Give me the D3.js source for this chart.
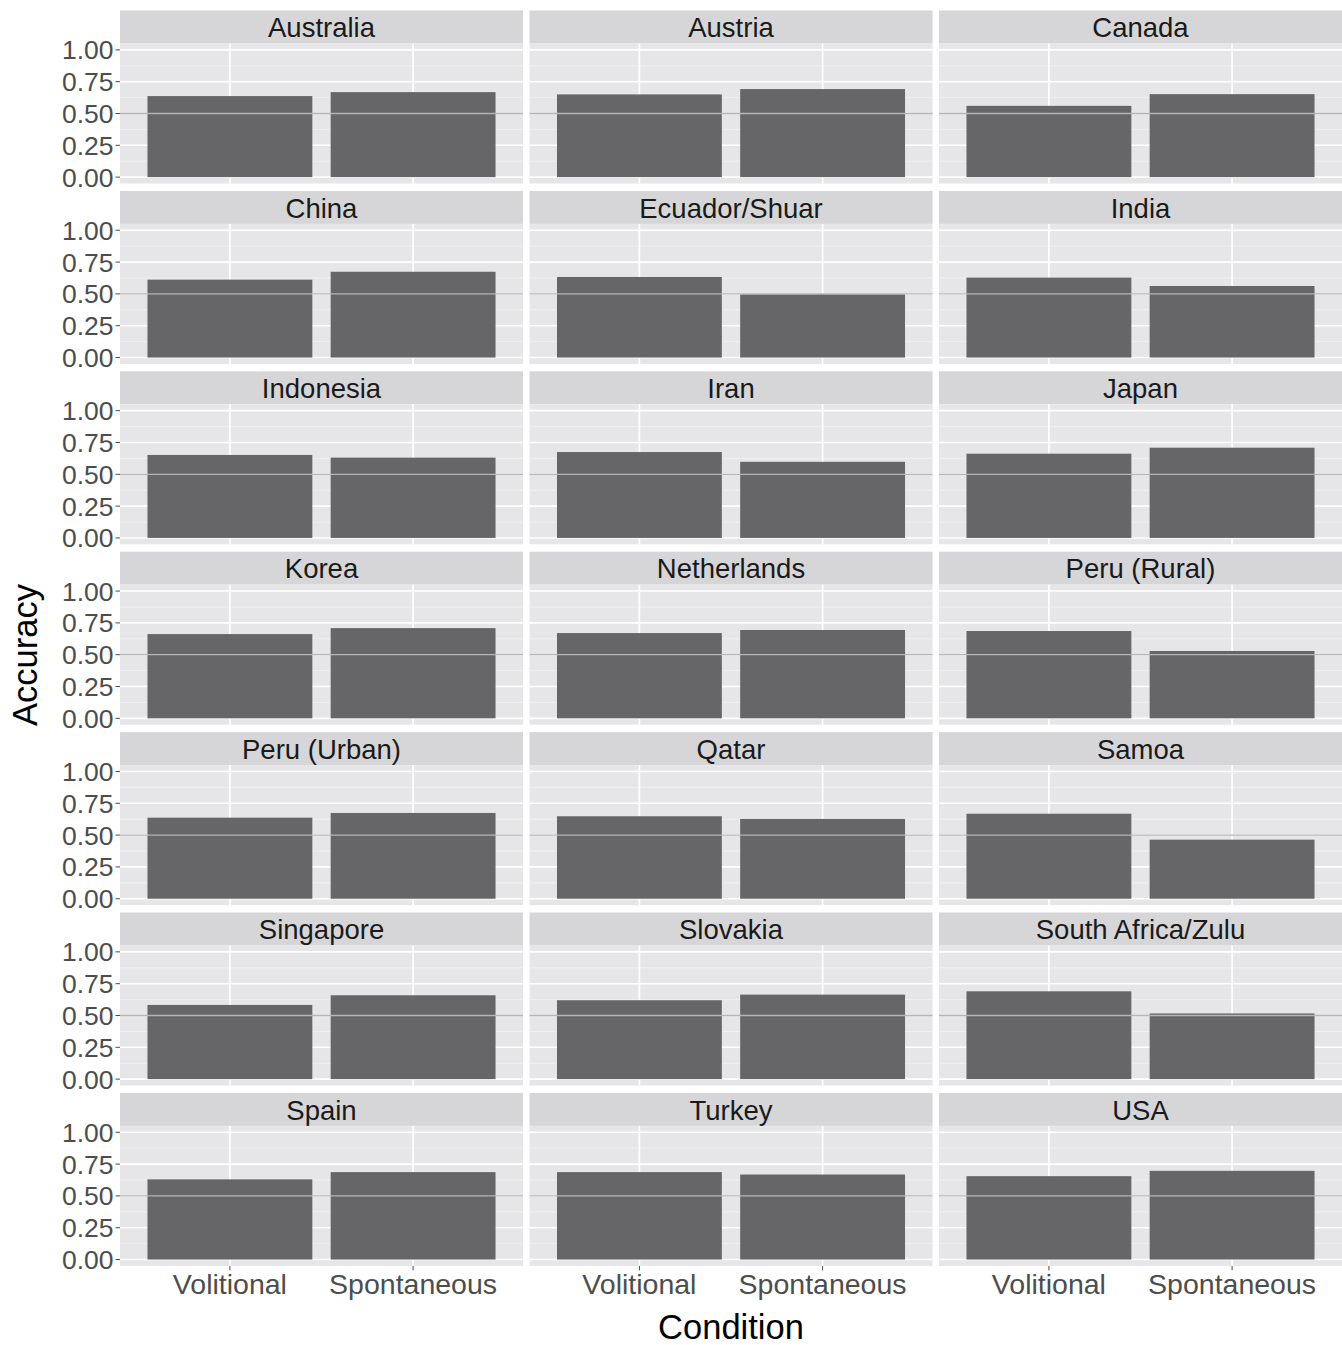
<!DOCTYPE html>
<html><head><meta charset="utf-8">
<script src="https://cdn.jsdelivr.net/npm/d3@7"></script>
<style>body{margin:0;background:#fff;} svg{display:block;font-family:"Liberation Sans",Arial,sans-serif;}</style>
</head><body>
<svg id="chart" width="1342" height="1345"></svg>
<script>
const countries = ["Australia","Austria","Canada","China","Ecuador/Shuar","India","Indonesia","Iran","Japan","Korea","Netherlands","Peru (Rural)","Peru (Urban)","Qatar","Samoa","Singapore","Slovakia","South Africa/Zulu","Spain","Turkey","USA"];
const conditions = ["Volitional","Spontaneous"];
const volitional  = [0.637,0.650,0.560,0.612,0.633,0.628,0.652,0.675,0.662,0.662,0.670,0.686,0.637,0.648,0.668,0.583,0.620,0.690,0.630,0.687,0.655];
const spontaneous = [0.668,0.692,0.652,0.674,0.497,0.562,0.631,0.598,0.709,0.709,0.694,0.529,0.674,0.627,0.464,0.659,0.664,0.516,0.687,0.668,0.697];
const yTicks = [0, 0.25, 0.5, 0.75, 1];
const yMinor = [0.125, 0.375, 0.625, 0.875];
const refLine = 0.5;

const svg = d3.select("#chart");
const nCols = 3;
const colLeft = [120, 529.5, 939];
const panelW = 403;
const stripH = 33, panelH = 140, rowPitch = 180.4, top0 = 10.5;

const x = d3.scaleBand().domain(conditions).range([0, panelW]).paddingInner(0.1).paddingOuter(0.15);
const y = d3.scaleLinear().domain([-0.05, 1.05]).range([panelH, 0]);
const fmt = d3.format(".2f");

const nRows = Math.ceil(countries.length / nCols);

countries.forEach((c, i) => {
  const col = i % nCols, row = Math.floor(i / nCols);
  const gx = colLeft[col], gy = top0 + row * rowPitch;
  const g = svg.append("g").attr("transform", `translate(${gx},${gy})`);
  g.append("rect").attr("x",0).attr("y",0).attr("width",panelW).attr("height",stripH).attr("fill","#D6D6D8");
  g.append("text").attr("x",panelW/2).attr("y",stripH/2 + 0.5).attr("dy","0.35em").attr("text-anchor","middle")
    .attr("font-size",27.5).attr("fill","#1A1A1A").text(c);
  const p = g.append("g").attr("transform",`translate(0,${stripH})`);
  p.append("rect").attr("width",panelW).attr("height",panelH).attr("fill","#E6E6E8");
  p.selectAll(".mn").data(yMinor).enter().append("line")
    .attr("x1",0).attr("x2",panelW).attr("y1",d=>y(d)).attr("y2",d=>y(d))
    .attr("stroke","#F3F3F4").attr("stroke-width",0.8);
  p.selectAll(".mj").data(yTicks).enter().append("line")
    .attr("x1",0).attr("x2",panelW).attr("y1",d=>y(d)).attr("y2",d=>y(d))
    .attr("stroke","#FFFFFF").attr("stroke-width",1.6);
  p.selectAll(".vx").data(conditions).enter().append("line")
    .attr("x1",d=>x(d)+x.bandwidth()/2).attr("x2",d=>x(d)+x.bandwidth()/2).attr("y1",0).attr("y2",panelH)
    .attr("stroke","#FFFFFF").attr("stroke-width",1.6);
  const vals = [volitional[i], spontaneous[i]];
  p.selectAll(".bar").data(conditions).enter().append("rect")
    .attr("x",d=>x(d)).attr("width",x.bandwidth())
    .attr("y",(d,k)=>y(vals[k])).attr("height",(d,k)=>y(0)-y(vals[k]))
    .attr("fill","#666668");
  p.append("line").attr("x1",0).attr("x2",panelW).attr("y1",y(refLine)).attr("y2",y(refLine))
    .attr("stroke","#B5B5B5").attr("stroke-width",1.3);
  if (col === 0) {
    p.selectAll(".yt").data(yTicks).enter().append("line")
      .attr("x1",-4.5).attr("x2",0).attr("y1",d=>y(d)).attr("y2",d=>y(d))
      .attr("stroke","#4D4D4D").attr("stroke-width",1);
    p.selectAll(".yl").data(yTicks).enter().append("text")
      .attr("x",-6.5).attr("y",d=>y(d)).attr("dy","0.36em").attr("text-anchor","end")
      .attr("font-size",26.5).attr("fill","#4D4D4D").text(d=>fmt(d));
  }
  if (row === nRows - 1) {
    p.selectAll(".xt").data(conditions).enter().append("line")
      .attr("x1",d=>x(d)+x.bandwidth()/2).attr("x2",d=>x(d)+x.bandwidth()/2).attr("y1",panelH).attr("y2",panelH+4.5)
      .attr("stroke","#4D4D4D").attr("stroke-width",1);
    p.selectAll(".xl").data(conditions).enter().append("text")
      .attr("x",d=>x(d)+x.bandwidth()/2).attr("y",panelH+18).attr("dy","0.36em").attr("text-anchor","middle")
      .attr("font-size",28.5).attr("fill","#4D4D4D").text(d=>d);
  }
});

svg.append("text").attr("x",731).attr("y",1327).attr("dy","0.36em").attr("text-anchor","middle")
  .attr("font-size",34.5).attr("fill","#000").text("Condition");
svg.append("text").attr("transform","translate(25,655) rotate(-90)").attr("dy","0.36em").attr("text-anchor","middle")
  .attr("font-size",34.5).attr("fill","#000").text("Accuracy");
</script>
</body></html>
